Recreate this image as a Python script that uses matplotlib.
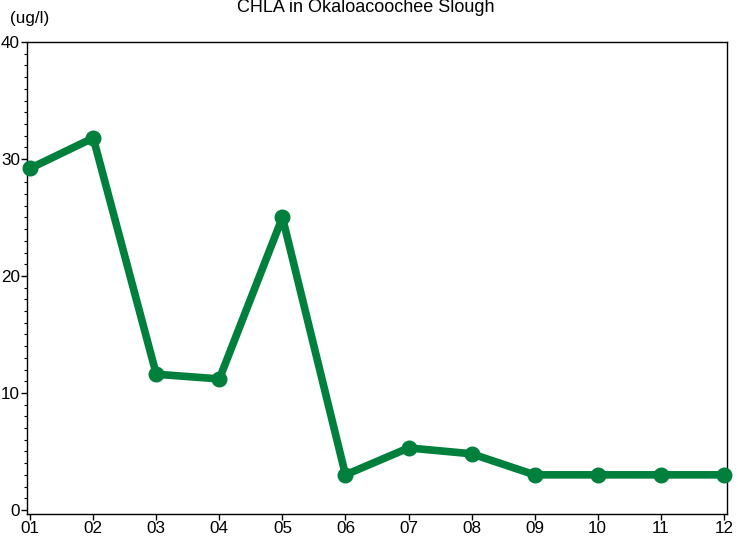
import numpy as np
import matplotlib.pyplot as plt
from matplotlib.ticker import MultipleLocator

months = ["01", "02", "03", "04", "05", "06", "07", "08", "09", "10", "11", "12"]
chla = [29.2, 31.8, 11.6, 11.2, 25.0, 3.0, 5.3, 4.8, 3.0, 3.0, 3.0, 3.0]

plt.rcParams['font.family'] = ['Liberation Sans', 'DejaVu Sans']

fig = plt.figure(figsize=(7.38, 5.4), dpi=100)
ax = fig.add_axes([0.0366, 0.0481, 0.9485, 0.8741])

x = np.arange(1, len(months) + 1)
ax.plot(x, chla, color="#00803c", lw=5.5, marker="o", ms=10.5, clip_on=False, zorder=3)

ax.set_xlim(0.95, 12.05)
ax.set_ylim(-0.35, 40)
ax.set_xticks(x)
ax.set_xticklabels(months)
ax.yaxis.set_major_locator(MultipleLocator(10))
ax.yaxis.set_minor_locator(MultipleLocator(1))
ax.tick_params(axis="both", labelsize=12.3, direction="out", length=4, width=1, pad=1)
ax.tick_params(axis="y", which="minor", length=2, width=0.8)
for s in ax.spines.values():
    s.set_linewidth(1)

fig.text(0.496, 1 - 7 / 540, "CHLA in Okaloacoochee Slough", ha="center", va="center", fontsize=13)
fig.text(10 / 738, 1 - 19 / 540, "(ug/l)", ha="left", va="center", fontsize=12.3)

fig.savefig("out.png", dpi=100)
